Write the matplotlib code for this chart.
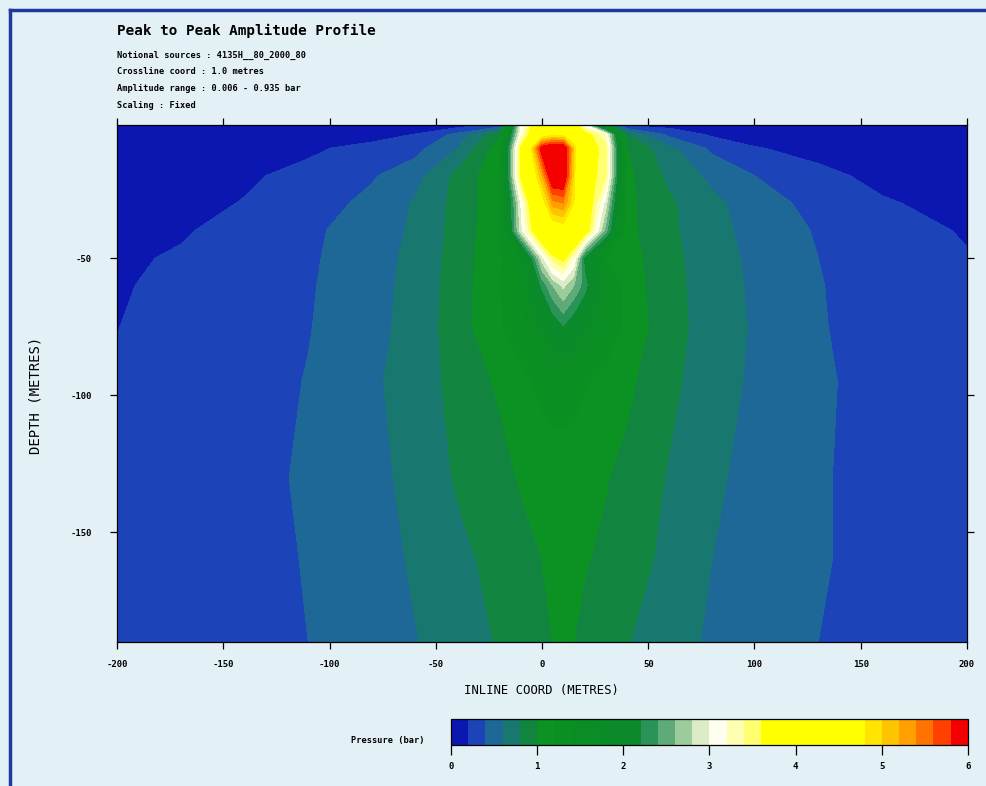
import matplotlib
matplotlib.use("Agg")
import matplotlib.pyplot as plt
import numpy as np
from matplotlib.cm import ScalarMappable
from matplotlib.colors import BoundaryNorm, ListedColormap
from matplotlib.lines import Line2D

plt.rcParams["axes.unicode_minus"] = False

# Peak-to-peak pressure (bar) on an inline / depth grid
inline = [-200, -170, -140, -110, -80, -60, -40, -20, -10, 0, 5, 10, 15, 20, 30, 40, 60, 80, 100, 130, 160, 200]
depth = [-1.5, -5, -10, -20, -30, -40, -50, -60, -75, -95, -130, -160, -190]
pressure = [
    [0.02, 0.03, 0.04, 0.06, 0.08, 0.09, 0.10, 0.25, 3.0, 4.2, 4.5, 4.5, 4.0, 3.0, 1.0, 0.15, 0.12, 0.10, 0.08, 0.06, 0.04, 0.03],
    [0.05, 0.06, 0.08, 0.10, 0.14, 0.205, 0.45, 0.95, 3.1, 4.5, 4.7, 4.7, 4.4, 3.8, 3.2, 0.8, 0.35, 0.17, 0.13, 0.10, 0.07, 0.05],
    [0.08, 0.10, 0.13, 0.175, 0.25, 0.33, 0.60, 1.10, 3.65, 6.0, 6.3, 6.2, 5.0, 3.8, 3.5, 1.0, 0.65, 0.36, 0.21, 0.15, 0.11, 0.07],
    [0.12, 0.15, 0.18, 0.24, 0.38, 0.52, 0.85, 1.15, 3.65, 5.2, 6.2, 6.2, 4.9, 3.8, 3.45, 1.05, 0.75, 0.55, 0.40, 0.24, 0.16, 0.10],
    [0.13, 0.16, 0.206, 0.31, 0.45, 0.62, 0.86, 1.14, 3.0, 4.6, 5.3, 5.4, 4.8, 4.0, 2.9, 1.05, 0.83, 0.65, 0.50, 0.33, 0.215, 0.15],
    [0.17, 0.19, 0.235, 0.36, 0.50, 0.63, 0.87, 1.15, 2.9, 4.2, 4.5, 4.6, 4.3, 3.9, 2.5, 1.05, 0.84, 0.66, 0.54, 0.38, 0.27, 0.185],
    [0.185, 0.21, 0.27, 0.37, 0.52, 0.65, 0.88, 1.17, 1.4, 2.9, 3.5, 3.7, 3.2, 2.1, 1.2, 1.08, 0.86, 0.68, 0.56, 0.40, 0.30, 0.21],
    [0.19, 0.225, 0.29, 0.38, 0.53, 0.66, 0.89, 1.18, 1.4, 2.25, 2.6, 2.85, 2.6, 2.3, 1.5, 1.1, 0.87, 0.69, 0.57, 0.41, 0.31, 0.22],
    [0.198, 0.24, 0.30, 0.39, 0.54, 0.67, 0.90, 1.18, 1.3, 1.7, 2.0, 2.18, 2.0, 1.8, 1.4, 1.12, 0.88, 0.70, 0.58, 0.415, 0.32, 0.23],
    [0.21, 0.25, 0.31, 0.41, 0.57, 0.68, 0.87, 1.03, 1.15, 1.25, 1.3, 1.3, 1.28, 1.22, 1.12, 1.04, 0.85, 0.68, 0.57, 0.43, 0.33, 0.24],
    [0.215, 0.26, 0.33, 0.43, 0.54, 0.66, 0.82, 0.93, 1.02, 1.08, 1.1, 1.1, 1.09, 1.06, 1.01, 0.95, 0.78, 0.64, 0.53, 0.42, 0.33, 0.24],
    [0.22, 0.27, 0.34, 0.41, 0.53, 0.62, 0.75, 0.86, 0.93, 1.0, 1.01, 1.02, 1.02, 1.01, 0.97, 0.90, 0.74, 0.60, 0.51, 0.42, 0.33, 0.24],
    [0.22, 0.27, 0.33, 0.40, 0.50, 0.59, 0.68, 0.82, 0.90, 0.97, 1.0, 1.01, 1.0, 0.97, 0.90, 0.81, 0.68, 0.57, 0.49, 0.40, 0.32, 0.24],
]

levels = np.round(np.arange(0, 6.01, 0.2), 1)
band_colours = [
    "#0c16b0", "#1c44b8", "#1e6898", "#187870", "#11853f",
    "#0b9222", "#0a9022", "#0a8e24", "#0a8c26", "#0a8a28", "#0a8a2a",
    "#2a9458", "#5eaa78", "#9ccc9c", "#dcecc4",
    "#fffff0", "#ffffb4", "#ffff70",
    "#ffff00", "#ffff00", "#ffff00", "#ffff00", "#ffff00", "#ffff00",
    "#ffe400", "#ffc400", "#ffa000", "#ff7400", "#ff4000", "#f40000",
]
cbar_ticks = [0, 1, 2, 3, 4, 5, 6]

info_lines = [
    "Notional sources : 4135H__80_2000_80",
    "Crossline coord : 1.0 metres",
    "Amplitude range : 0.006 - 0.935 bar",
    "Scaling : Fixed",
]

bg = "#e3f1f7"
mono = "DejaVu Sans Mono"

cmap = ListedColormap(band_colours)
cmap.set_over(band_colours[-1])
norm = BoundaryNorm(levels, cmap.N)

fig = plt.figure(figsize=(9.86, 7.86), dpi=100, facecolor=bg)

ax = fig.add_axes([0.1187, 0.1832, 0.862, 0.6578])
ax.contourf(inline, depth, pressure, levels=levels, cmap=cmap, norm=norm, extend="max")
ax.set_xlim(-200, 200)
ax.set_ylim(-190, -1.5)
ax.set_xticks(range(-200, 201, 50))
ax.set_yticks([-50, -100, -150])
ax.tick_params(axis="both", direction="out", length=5, width=0.9, color="black",
               top=True, right=True, labelsize=6.5)
ax.tick_params(axis="x", pad=8)
ax.tick_params(axis="y", pad=13)
for lab in ax.get_xticklabels() + ax.get_yticklabels():
    lab.set_fontfamily(mono)
    lab.set_fontweight("bold")
for sp in ax.spines.values():
    sp.set_linewidth(0.9)

# header text
fig.text(0.1187, 0.9606, "Peak to Peak Amplitude Profile", family=mono,
         fontweight="bold", fontsize=10.3, va="center", ha="left")
for i, line in enumerate(info_lines):
    fig.text(0.1187, 0.930 - i * 0.0215, line, family=mono, fontweight="bold",
             fontsize=6.2, va="center", ha="left")

fig.text(0.0355, 0.4975, "DEPTH (METRES)", family=mono, fontsize=10,
         rotation=90, va="center", ha="center")
fig.text(0.5487, 0.1221, "INLINE COORD (METRES)", family=mono, fontsize=8.8,
         va="center", ha="center")

# colour key
cax = fig.add_axes([0.4574, 0.0522, 0.5243, 0.0331])
cb = fig.colorbar(ScalarMappable(norm=norm, cmap=cmap), cax=cax,
                  orientation="horizontal", ticks=cbar_ticks)
cb.minorticks_off()
cb.outline.set_linewidth(0.9)
cax.tick_params(direction="out", length=7, width=0.9, pad=5, labelsize=6.5)
for lab in cax.get_xticklabels():
    lab.set_fontfamily(mono)
    lab.set_fontweight("bold")
fig.text(0.431, 0.0585, "Pressure (bar)", family=mono, fontweight="bold",
         fontsize=6.2, va="center", ha="right")

# page frame
fig.add_artist(Line2D([0.0101, 0.0101], [0.0, 0.9873], transform=fig.transFigure,
                      color="#1f3a9e", lw=2.5))
fig.add_artist(Line2D([0.0101, 1.0], [0.9873, 0.9873], transform=fig.transFigure,
                      color="#1f3a9e", lw=2.5))

fig.savefig("out.png", dpi=100, facecolor=bg)
